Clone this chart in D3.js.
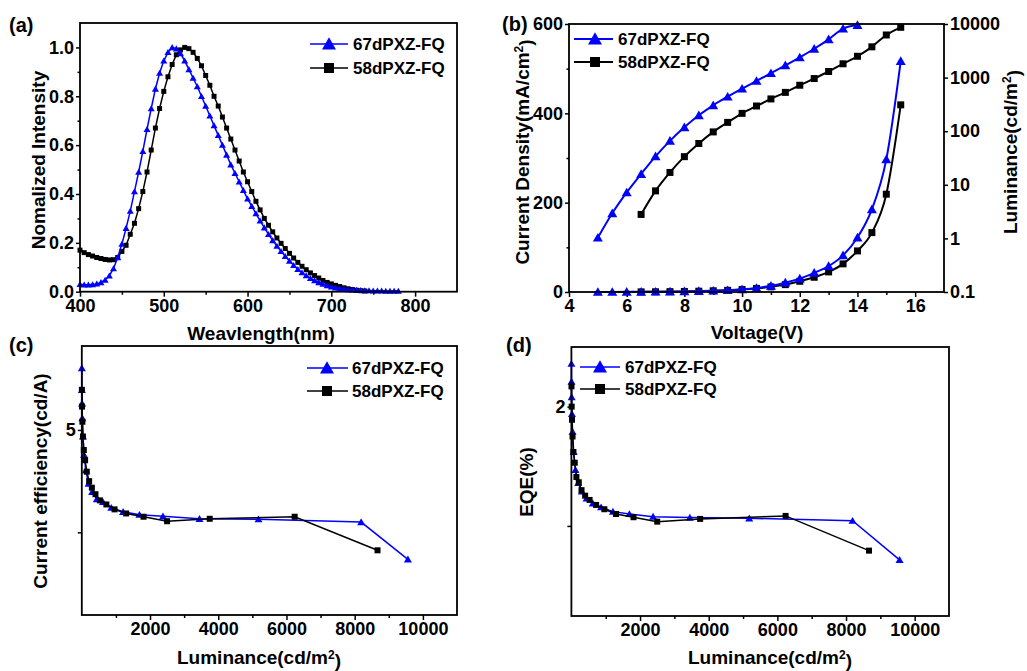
<!DOCTYPE html>
<html><head><meta charset="utf-8">
<script src="https://cdn.jsdelivr.net/npm/d3@7"></script>
<style>
body{margin:0;background:#fff;}
text{font-family:"Liberation Sans",Arial,sans-serif;font-weight:bold;fill:#000;}
</style></head><body>
<svg id="c" width="1027" height="671"></svg>
<script>
// ---------- DATA ----------
const seriesNames = ["67dPXZ-FQ", "58dPXZ-FQ"];
const seriesColors = ["#0000ff", "#000000"];

// (a) PL spectra
const wl67 = [400,405,410,415,420,425,430,435,440,445,450,455,460,465,470,475,480,485,490,495,500,505,510,515,520,525,530,535,540,545,550,555,560,565,570,575,580,585,590,595,600,605,610,615,620,625,630,635,640,645,650,655,660,665,670,675,680,685,690,695,700,705,710,715,720,725,730,735,740,745,750,755,760,765,770,775,780];
const int67 = [0.030,0.028,0.028,0.029,0.032,0.038,0.048,0.065,0.095,0.14,0.195,0.26,0.33,0.41,0.49,0.575,0.665,0.75,0.83,0.895,0.945,0.98,1.0,0.995,0.975,0.945,0.91,0.875,0.84,0.80,0.76,0.72,0.68,0.64,0.60,0.56,0.52,0.485,0.45,0.415,0.38,0.35,0.32,0.29,0.262,0.235,0.21,0.187,0.165,0.145,0.126,0.108,0.092,0.078,0.066,0.055,0.046,0.038,0.031,0.025,0.020,0.016,0.013,0.011,0.009,0.008,0.007,0.006,0.005,0.005,0.004,0.004,0.004,0.003,0.003,0.003,0.003];
const wl58 = [400,405,410,415,420,425,430,435,440,445,450,455,460,465,470,475,480,485,490,495,500,505,510,515,520,525,530,535,540,545,550,555,560,565,570,575,580,585,590,595,600,605,610,615,620,625,630,635,640,645,650,655,660,665,670,675,680,685,690,695,700,705,710,715,720,725,730,735,740];
const int58 = [0.170,0.160,0.152,0.146,0.140,0.136,0.132,0.130,0.131,0.140,0.165,0.19,0.235,0.28,0.34,0.41,0.49,0.58,0.67,0.75,0.82,0.88,0.93,0.97,0.99,1.0,0.995,0.98,0.955,0.925,0.885,0.845,0.80,0.76,0.715,0.67,0.625,0.58,0.535,0.49,0.45,0.41,0.37,0.335,0.30,0.272,0.245,0.22,0.198,0.177,0.157,0.138,0.12,0.104,0.09,0.077,0.066,0.056,0.046,0.038,0.032,0.026,0.021,0.016,0.012,0.009,0.006,0.004,0.003];

// (b) J-V-L
const voltJ67 = [5,5.5,6,6.5,7,7.5,8,8.5,9,9.5,10,10.5,11,11.5,12,12.5,13,13.5,14,14.5,15,15.5];
const curJ67  = [0.1,0.2,0.3,0.5,0.7,1.0,1.4,2.0,2.9,4.0,6,9,14,21,30,43,58,82,122,185,297,517];
const voltJ58 = [6.5,7,7.5,8,8.5,9,9.5,10,10.5,11,11.5,12,12.5,13,13.5,14,14.5,15,15.5];
const curJ58  = [0.3,0.5,0.8,1.2,1.8,2.7,3.8,5.5,8,11.5,16.5,24,33,45,63,92,133,219,419];
const voltL67 = [5,5.5,6,6.5,7,7.5,8,8.5,9,9.5,10,10.5,11,11.5,12,12.5,13,13.5,14];
const lum67   = [1.03,2.94,7.2,15.9,34,66,118,198,304,441,622,865,1210,1690,2380,3450,5180,8190,9560];
const voltL58 = [6.5,7,7.5,8,8.5,9,9.5,10,10.5,11,11.5,12,12.5,13,13.5,14,14.5,15,15.5];
const lum58   = [2.8,7.7,17,33.5,59,97,146,215,295,400,530,720,960,1300,1810,2500,3750,6240,8670];

// (c) current efficiency, (d) EQE (vs luminance above)
const ce67  = [6.51,5.98,5.65,5.29,4.84,4.39,4.02,3.69,3.49,3.31,3.24,3.10,3.00,2.93,2.89,2.83,2.82,2.75,1.84];
const ce58  = [5.98,5.57,5.20,4.84,4.51,4.26,3.98,3.75,3.59,3.43,3.28,3.18,3.06,2.96,2.88,2.77,2.83,2.88,2.06];
const eqe67 = [2.36,2.21,2.08,1.94,1.79,1.62,1.47,1.36,1.29,1.23,1.19,1.157,1.12,1.10,1.078,1.07,1.064,1.044,0.715];
const eqe58 = [2.17,2.00,1.89,1.75,1.62,1.53,1.41,1.366,1.30,1.254,1.218,1.176,1.14,1.10,1.073,1.036,1.059,1.084,0.793];

// tick values
const ticksA_x = [400,500,600,700,800], minorA_x = [450,550,650,750];
const ticksA_y = [0,0.2,0.4,0.6,0.8,1.0], minorA_y = [0.1,0.3,0.5,0.7,0.9];
const ticksB_x = [4,6,8,10,12,14,16], minorB_x = [5,7,9,11,13,15];
const ticksB_y = [0,200,400,600], minorB_y = [100,300,500];
const ticksB_y2 = [0.1,1,10,100,1000,10000];
const ticksLum = [2000,4000,6000,8000,10000], minorLum = [1000,3000,5000,7000,9000];
const ticksC_y = [5], minorC_y = [2.5];
const ticksD_y = [2], minorD_y = [1];

// ---------- DRAWING ----------
const svg = d3.select("#c");
svg.append("rect").attr("width",1027).attr("height",671).attr("fill","#fff");

const TICKFS = 18, LABFS = 19, LEGFS = 17;

function triPath(s){const h=s*0.866;return `M0,${-h*0.55}L${s/2},${h*0.45}L${-s/2},${h*0.45}Z`;}
function sqPath(s){return `M${-s/2},${-s/2}h${s}v${s}h${-s}Z`;}

function styleAxis(g){
  g.select(".domain").remove();
  g.selectAll(".tick line").attr("stroke","#000").attr("stroke-width",1.5);
  g.selectAll(".tick text").style("font-size",TICKFS+"px").style("font-weight","bold").attr("fill","#000");
}
function addAxis(gen, x, y, vals, fmt, size, pad){
  const g = svg.append("g").attr("transform",`translate(${x},${y})`)
    .call(gen.tickValues(vals).tickFormat(fmt).tickSize(size).tickPadding(pad));
  styleAxis(g);
  return g;
}
function frame(x0,y0,x1,y1){
  svg.append("rect").attr("x",x0).attr("y",y0).attr("width",x1-x0).attr("height",y1-y0)
    .attr("fill","none").attr("stroke","#000").attr("stroke-width",1.8);
}
function series(xs, ys, xsc, ysc, color, marker, msize, lw, curve){
  const pts = xs.map((v,i)=>[xsc(v), ysc(ys[i])]);
  const line = d3.line().curve(curve||d3.curveLinear);
  svg.append("path").attr("d",line(pts)).attr("fill","none").attr("stroke",color).attr("stroke-width",lw);
  svg.append("g").selectAll("path").data(pts).join("path")
    .attr("transform",d=>`translate(${d[0]},${d[1]})`)
    .attr("d", marker==="tri"?triPath(msize):sqPath(msize)).attr("fill",color);
}
function legend(x0,x1,xm,xt,ys,tri,sq,lw){
  [0,1].forEach(i=>{
    svg.append("line").attr("x1",x0).attr("x2",x1).attr("y1",ys[i]).attr("y2",ys[i])
      .attr("stroke",seriesColors[i]).attr("stroke-width",lw);
    svg.append("path").attr("transform",`translate(${xm},${ys[i]})`)
      .attr("d", i===0?triPath(tri):sqPath(sq)).attr("fill",seriesColors[i]);
    svg.append("text").attr("x",xt).attr("y",ys[i]).attr("dy","0.36em")
      .style("font-size",LEGFS+"px").text(seriesNames[i]);
  });
}
function ylabel(x,y,parts){
  const t = svg.append("text").attr("transform",`translate(${x},${y}) rotate(-90)`)
    .attr("text-anchor","middle").attr("dy","0.36em").style("font-size",LABFS+"px");
  addParts(t,parts);
}
function xlabel(x,y,parts){
  const t = svg.append("text").attr("x",x).attr("y",y).attr("text-anchor","middle").style("font-size",LABFS+"px");
  addParts(t,parts);
}
function addParts(t,parts){
  parts.forEach(p=>{
    if(typeof p==="string") t.append("tspan").text(p);
    else { t.append("tspan").attr("dy","-0.45em").style("font-size","12px").text(p.sup);
           t.append("tspan").attr("dy","0.45em").text(p.after); }
  });
}
function panelLabel(x,y,s){svg.append("text").attr("x",x).attr("y",y).style("font-size","20px").text(s);}

// ----- (a) -----
{
  const L=80,T=23,R=457,B=291.7;
  const x = d3.scaleLinear([400,850],[L,R]);
  const y = d3.scaleLinear([0,1.1],[B,T]);
  addAxis(d3.axisBottom(x), 0, B, ticksA_x, d3.format("d"), 5, 3);
  addAxis(d3.axisBottom(x), 0, B, minorA_x, ()=>"", 3, 0);
  addAxis(d3.axisLeft(y), L, 0, ticksA_y, d3.format(".1f"), 4, 2);
  addAxis(d3.axisLeft(y), L, 0, minorA_y, ()=>"", 2.5, 0);
  series(wl58,int58,x,y,seriesColors[1],"sq",5,1.5);
  series(wl67,int67,x,y,seriesColors[0],"tri",7,1.5);
  frame(L,T,R,B);
  legend(310,348,329,353,[44,68],14,10,1.6);
  ylabel(38,160,["Nomalized Intensity"]);
  xlabel(261,340,["Weavlength(nm)"]);
  panelLabel(9,32,"(a)");
}
// ----- (b) -----
{
  const L=569,T=24,R=944,B=292;
  const x = d3.scaleLinear([4,17],[L,R]);
  const y = d3.scaleLinear([0,600],[B,T]);
  const y2 = d3.scaleLog([0.1,10000],[B,T]);
  addAxis(d3.axisBottom(x), 0, B, ticksB_x, d3.format("d"), 5, 2);
  addAxis(d3.axisBottom(x), 0, B, minorB_x, ()=>"", 3, 0);
  addAxis(d3.axisLeft(y), L, 0, ticksB_y, d3.format("d"), 4, 2);
  addAxis(d3.axisLeft(y), L, 0, minorB_y, ()=>"", 2.5, 0);
  addAxis(d3.axisRight(y2), R, 0, ticksB_y2, d=>String(d), 4, 2);
  series(voltJ58,curJ58,x,y,seriesColors[1],"sq",7,2,d3.curveMonotoneX);
  series(voltJ67,curJ67,x,y,seriesColors[0],"tri",10,2,d3.curveMonotoneX);
  series(voltL58,lum58,x,y2,seriesColors[1],"sq",7,2,d3.curveMonotoneX);
  series(voltL67,lum67,x,y2,seriesColors[0],"tri",10,2,d3.curveMonotoneX);
  frame(L,T,R,B);
  legend(574,613,595,618,[39,62],14,10,2);
  ylabel(522,152,["Current Density(mA/cm",{sup:"2",after:")"}]);
  ylabel(1010,152,["Luminance(cd/m",{sup:"2",after:")"}]);
  xlabel(757,339,["Voltage(V)"]);
  panelLabel(502,31,"(b)");
}
// ----- (c) -----
{
  const L=81.8,T=346,R=457,B=615;
  const x = d3.scaleLinear([0,11000],[L,R]);
  const y = d3.scaleLinear([0.48,7.05],[B,T]);
  addAxis(d3.axisBottom(x), 0, B, ticksLum, d3.format("d"), 5, 2);
  addAxis(d3.axisBottom(x), 0, B, minorLum, ()=>"", 3, 0);
  addAxis(d3.axisLeft(y), L, 0, ticksC_y, d3.format("d"), 4, 2);
  addAxis(d3.axisLeft(y), L, 0, minorC_y, ()=>"", 4, 0);
  series(lum67,ce67,x,y,seriesColors[0],"tri",8,1.5);
  series(lum58,ce58,x,y,seriesColors[1],"sq",6,1.5);
  frame(L,T,R,B);
  legend(307,348,327,352,[368,391],14,10,1.6);
  ylabel(40,481,["Current efficiency(cd/A)"]);
  xlabel(259,664,["Luminance(cd/m",{sup:"2",after:")"}]);
  panelLabel(9,352,"(c)");
}
// ----- (d) -----
{
  const L=571.4,T=347,R=949,B=616;
  const x = d3.scaleLinear([0,11000],[L,R]);
  const y = d3.scaleLinear([0.245,2.5],[B,T]);
  addAxis(d3.axisBottom(x), 0, B, ticksLum, d3.format("d"), 5, 2);
  addAxis(d3.axisBottom(x), 0, B, minorLum, ()=>"", 3, 0);
  addAxis(d3.axisLeft(y), L, 0, ticksD_y, d3.format("d"), 4, 2);
  addAxis(d3.axisLeft(y), L, 0, minorD_y, ()=>"", 4, 0);
  series(lum67,eqe67,x,y,seriesColors[0],"tri",8,1.5);
  series(lum58,eqe58,x,y,seriesColors[1],"sq",6,1.5);
  frame(L,T,R,B);
  legend(580,620,600,625,[367,389],14,10,1.6);
  ylabel(526,482,["EQE(%)"]);
  xlabel(770,664,["Luminance(cd/m",{sup:"2",after:")"}]);
  panelLabel(506,352,"(d)");
}
</script>
</body></html>
